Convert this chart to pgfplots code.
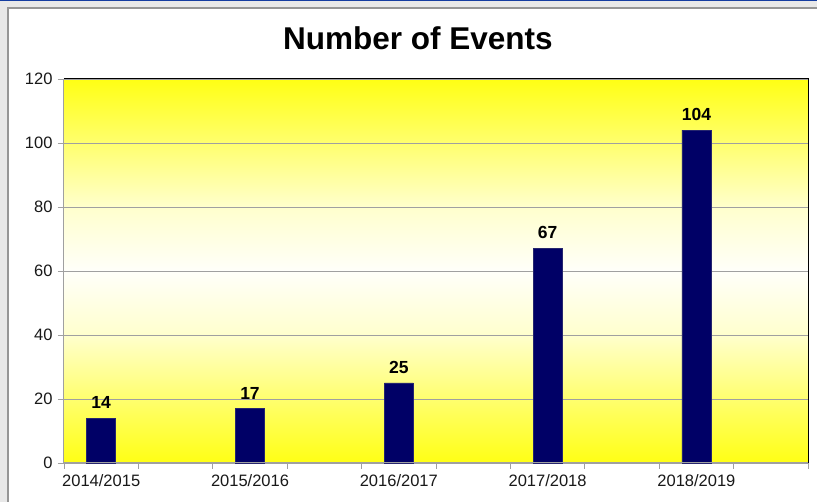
\documentclass[border=0pt]{standalone}
\usepackage{pgfplots}
\pgfplotsset{compat=1.18}
\usepackage{fontspec}
\setmainfont{Liberation Sans}
\definecolor{barnavy}{RGB}{0,0,102}
\definecolor{gridgray}{RGB}{160,160,160}
\definecolor{framegray}{RGB}{150,150,150}
\definecolor{bggray}{RGB}{232,232,232}
\definecolor{topblue}{RGB}{20,60,160}
\definecolor{yA}{RGB}{255,255,20}
\definecolor{yB}{RGB}{255,255,110}
\definecolor{yC}{RGB}{255,255,205}
\definecolor{yD}{RGB}{255,255,250}
\begin{document}
\begin{tikzpicture}[x=1pt,y=1pt]
\path[use as bounding box] (0,0) rectangle (817,502);
\fill[bggray] (0,0) rectangle (817,502);
\fill[white] (8,0) rectangle (817,494);
\draw[framegray, line width=1.2pt] (8,0) -- (8,494) -- (817,494);
\fill[topblue] (0,500.5) rectangle (817,502);
% background gradient of the plot area (value 120 at y=423, 0 at y=39)
\shade[top color=yA, bottom color=yB] (64,358.5) rectangle (808,423);
\shade[top color=yB, bottom color=yC] (64,294.5) rectangle (808,359);
\shade[top color=yC, bottom color=yD] (64,230.5) rectangle (808,295);
\shade[top color=yD, bottom color=yC] (64,166.5) rectangle (808,231);
\shade[top color=yC, bottom color=yB] (64,102.5) rectangle (808,167);
\shade[top color=yB, bottom color=yA] (64,39) rectangle (808,103);
\node[anchor=base] at (418,452) {\bfseries\fontsize{31.5}{36}\selectfont Number of Events};
\begin{axis}[
  at={(64pt,39pt)}, anchor=south west,
  width=744pt, height=384pt, scale only axis,
  xmin=-0.5, xmax=9.5, ymin=0, ymax=120,
  ytick={0,20,...,120},
  xtick={0,2,4,6,8},
  xticklabels={2014/2015,2015/2016,2016/2017,2017/2018,2018/2019},
  minor xtick={-0.5,0.5,...,9.5},
  major x tick style={draw=none},
  tick align=outside, tick pos=left,
  major tick length=6pt, minor tick length=6pt,
  every tick/.style={gridgray, line width=0.8pt},
  minor x tick style={gridgray, line width=0.8pt},
  ymajorgrids, major grid style={gridgray, line width=0.8pt},
  axis line style={draw=none},
  /pgf/number format/assume math mode=true,
  ticklabel style={font=\fontsize{16.5}{19}\selectfont, text=black!90},
  xticklabel style={yshift=-2pt},
  yticklabel style={xshift=-2pt},
  ybar, bar width=29pt,
  nodes near coords,
  every node near coord/.append style={font=\bfseries\fontsize{17.5}{20}\selectfont, text=black, yshift=6pt},
  clip=false,
]
\addplot[fill=barnavy, draw=barnavy!70!gray, line width=0.5pt] coordinates {(0,14) (2,17) (4,25) (6,67) (8,104)};
\draw[gridgray, line width=1pt] (rel axis cs:0,1) -- (rel axis cs:0,0) -- (rel axis cs:1,0);
\draw[black, line width=1pt] (rel axis cs:0,1) -- (rel axis cs:1,1) -- (rel axis cs:1,0);
\end{axis}
\end{tikzpicture}
\end{document}
